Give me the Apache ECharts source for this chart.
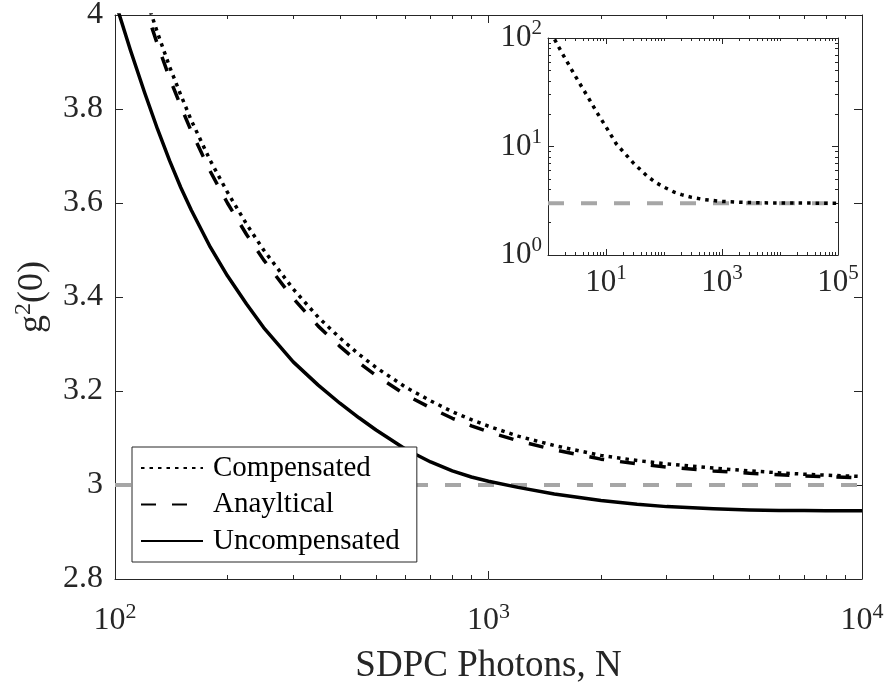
<!DOCTYPE html>
<html><head><meta charset="utf-8">
<script src="https://cdn.jsdelivr.net/npm/echarts@6/dist/echarts.min.js"></script>
<style>html,body{margin:0;padding:0;background:#fff}#c{width:886px;height:683px}</style>
</head><body><div id="c"></div>
<script>
// ---- data ----
const photons = [100,110,120,130,140,150,160,180,200,225,250,300,350,400,450,500,600,700,800,900,1000,1200,1500,2000,2500,3000,4000,5000,6000,7000,8000,10000];
const compensated = [4.25,4.14,4.045,3.962,3.89,3.83,3.776,3.69,3.623,3.555,3.50,3.417,3.357,3.313,3.278,3.25,3.208,3.179,3.156,3.139,3.125,3.104,3.084,3.063,3.052,3.045,3.036,3.030,3.026,3.023,3.021,3.018];
const analytical = [4.225,4.115,4.02,3.937,3.866,3.806,3.753,3.667,3.600,3.533,3.479,3.397,3.338,3.295,3.260,3.233,3.192,3.164,3.142,3.126,3.113,3.094,3.075,3.055,3.045,3.038,3.030,3.025,3.022,3.019,3.018,3.015];
const uncompensated = [4.03,3.925,3.835,3.757,3.69,3.633,3.585,3.506,3.445,3.385,3.335,3.262,3.2125,3.174,3.143,3.117,3.076,3.049,3.030,3.017,3.008,2.995,2.981,2.967,2.959,2.954,2.9495,2.947,2.946,2.9455,2.9453,2.945];
const insetPhotons = [1.3,1.5,2,3,4,5,7,10,15,20,30,50,70,100,150,200,300,500,1000,2000,5000,10000,100000];
const insetCompensated = [97,84,64,44,34,28,20.5,15.2,10.6,8.9,7.0,5.4,4.7,4.22,3.8,3.6,3.4,3.24,3.12,3.06,3.025,3.015,3.0];
const referenceLevel = 3;
const mainXRange = [100, 10000];
const insetXRange = [1, 100000];
const insetYRange = [1, 100];
const mainXMajor = [100, 1000, 10000];
const insetXMajor = [10, 1000, 100000];
const insetYMajor = [1, 10, 100];
const legendNames = ['Compensated', 'Anayltical', 'Uncompensated'];

// ---- helpers ----
const AX = '#262626';
const FONT = 'Liberation Serif';
function minorTicks(lo, hi, skip) {
  const out = [];
  for (let d = lo; d < hi; d *= 10) {
    for (let m = 2; m <= 10; m++) {
      const v = Math.round(m * d * 1000) / 1000;
      if (v <= hi && skip.indexOf(v) < 0) out.push(v);
    }
  }
  return out;
}
function supFmt(v) { return '10{sup|' + Math.round(Math.log10(v)) + '}'; }
function supRich(fs) { return { sup: { fontSize: fs, fontFamily: FONT, color: AX, verticalAlign: 'top', lineHeight: fs } }; }

const mainXMinor = minorTicks(100, 10000, mainXMajor);
const insetXMinor = minorTicks(1, 100000, insetXMajor);
const insetYMinor = minorTicks(1, 100, insetYMajor);

function logX(grid, range, pos, ticks, len, opts) {
  return Object.assign({
    type: 'log', logBase: 10, gridIndex: grid, min: range[0], max: range[1], position: pos,
    axisLine: { show: false, lineStyle: { color: AX, width: 1 } },
    axisTick: { show: true, inside: true, length: len, customValues: ticks, lineStyle: { color: AX, width: 1 } },
    axisLabel: { show: false },
    splitLine: { show: false }, minorTick: { show: false }
  }, opts || {});
}

const chart = echarts.init(document.getElementById('c'), null, { renderer: 'canvas' });
const zip = (xs, ys) => xs.map((x, i) => [x, ys[i]]);

const option = {
  backgroundColor: '#fff',
  animation: false,
  grid: [
    { left: 115, top: 15, width: 747, height: 564, outerBoundsMode: 'none', containLabel: false },
    { left: 548, top: 38, width: 290, height: 217, outerBoundsMode: 'none', containLabel: false }
  ],
  legend: {
    data: legendNames.map(n => ({ name: n, itemStyle: { opacity: 0 } })),
    orient: 'vertical', left: 132, top: 447,
    padding: [5, 17, 5, 8], itemGap: 4.5, itemWidth: 62, itemHeight: 14,
    borderColor: AX, borderWidth: 1, backgroundColor: '#fff', z: 20,
    itemStyle: { opacity: 0 },
    textStyle: { fontSize: 29, fontFamily: FONT, color: '#000', lineHeight: 32, padding: [0, 0, 0, 5] }
  },
  xAxis: [
    logX(0, mainXRange, 'bottom', mainXMajor, 8, {
      axisLine: { show: true, lineStyle: { color: AX, width: 1 } },
      axisLabel: { show: true, customValues: mainXMajor, formatter: supFmt, fontSize: 32, lineHeight: 40, fontFamily: FONT, color: AX, margin: 22, rich: supRich(22) },
      name: 'SDPC Photons, N', nameLocation: 'middle', nameGap: 55,
      nameTextStyle: { fontSize: 37, fontFamily: FONT, color: AX, lineHeight: 40 }
    }),
    logX(0, mainXRange, 'bottom', mainXMinor, 4),
    logX(0, mainXRange, 'top', mainXMajor, 8, { axisLine: { show: true, lineStyle: { color: AX, width: 1 } } }),
    logX(0, mainXRange, 'top', mainXMinor, 4),
    logX(1, insetXRange, 'bottom', insetXMajor, 6, {
      axisLine: { show: true, lineStyle: { color: AX, width: 1 } },
      axisLabel: { show: true, customValues: insetXMajor, formatter: supFmt, fontSize: 31, lineHeight: 40, fontFamily: FONT, color: AX, margin: 8, rich: supRich(21) }
    }),
    logX(1, insetXRange, 'bottom', insetXMinor, 3),
    logX(1, insetXRange, 'top', insetXMajor, 6, { axisLine: { show: true, lineStyle: { color: AX, width: 1 } } }),
    logX(1, insetXRange, 'top', insetXMinor, 3)
  ],
  yAxis: [
    { type: 'value', gridIndex: 0, min: 2.8, max: 4, interval: 0.2, position: 'left',
      axisLine: { show: true, lineStyle: { color: AX, width: 1 } },
      axisTick: { show: true, inside: true, length: 8, lineStyle: { color: AX } },
      axisLabel: { fontSize: 32, fontFamily: FONT, color: AX, margin: 12 },
      splitLine: { show: false },
      name: 'g{sup|2}(0)', nameLocation: 'middle', nameGap: 60, nameRotate: 90,
      nameTextStyle: { fontSize: 36, fontFamily: FONT, color: AX, lineHeight: 40, rich: supRich(24) } },
    { type: 'value', gridIndex: 0, min: 2.8, max: 4, interval: 0.2, position: 'right',
      axisLine: { show: true, lineStyle: { color: AX, width: 1 } },
      axisTick: { show: true, inside: true, length: 8, lineStyle: { color: AX } },
      axisLabel: { show: false }, splitLine: { show: false } },
    { type: 'log', logBase: 10, gridIndex: 1, min: insetYRange[0], max: insetYRange[1], position: 'left',
      axisLine: { show: true, lineStyle: { color: AX, width: 1 } },
      axisTick: { show: true, inside: true, length: 6, customValues: insetYMajor, lineStyle: { color: AX } },
      axisLabel: { customValues: insetYMajor, formatter: supFmt, fontSize: 31, lineHeight: 40, fontFamily: FONT, color: AX, margin: 6, rich: supRich(21) },
      splitLine: { show: false } },
    { type: 'log', logBase: 10, gridIndex: 1, min: insetYRange[0], max: insetYRange[1], position: 'left',
      axisLine: { show: false }, axisTick: { show: true, inside: true, length: 3, customValues: insetYMinor, lineStyle: { color: AX } },
      axisLabel: { show: false }, splitLine: { show: false } },
    { type: 'log', logBase: 10, gridIndex: 1, min: insetYRange[0], max: insetYRange[1], position: 'right',
      axisLine: { show: true, lineStyle: { color: AX, width: 1 } },
      axisTick: { show: true, inside: true, length: 6, customValues: insetYMajor, lineStyle: { color: AX } },
      axisLabel: { show: false }, splitLine: { show: false } },
    { type: 'log', logBase: 10, gridIndex: 1, min: insetYRange[0], max: insetYRange[1], position: 'right',
      axisLine: { show: false }, axisTick: { show: true, inside: true, length: 3, customValues: insetYMinor, lineStyle: { color: AX } },
      axisLabel: { show: false }, splitLine: { show: false } }
  ],
  series: [
    { name: 'ref-main', type: 'line', xAxisIndex: 0, yAxisIndex: 0, symbol: 'none', silent: true, z: 1,
      data: [[mainXRange[0], referenceLevel], [mainXRange[1], referenceLevel]],
      lineStyle: { color: '#a6a6a6', width: 4, type: [16, 17], cap: 'butt' } },
    { name: 'Compensated', type: 'line', xAxisIndex: 0, yAxisIndex: 0, symbol: 'none', z: 3,
      data: zip(photons, compensated), itemStyle: { color: '#000' },
      lineStyle: { color: '#000', width: 3.5, type: [3.5, 5], cap: 'butt' } },
    { name: 'Anayltical', type: 'line', xAxisIndex: 0, yAxisIndex: 0, symbol: 'none', z: 3,
      data: zip(photons, analytical), itemStyle: { color: '#000' },
      lineStyle: { color: '#000', width: 3.5, type: [15, 16], cap: 'butt' } },
    { name: 'Uncompensated', type: 'line', xAxisIndex: 0, yAxisIndex: 0, symbol: 'none', z: 3,
      data: zip(photons, uncompensated), itemStyle: { color: '#000' },
      lineStyle: { color: '#000', width: 3.5, type: 'solid', join: 'round' } },
    { name: 'ref-inset', type: 'line', xAxisIndex: 4, yAxisIndex: 2, symbol: 'none', silent: true, z: 1,
      data: [[insetXRange[0], referenceLevel], [insetXRange[1], referenceLevel]],
      lineStyle: { color: '#a6a6a6', width: 4, type: [16, 17], cap: 'butt' } },
    { name: 'inset-comp', type: 'line', xAxisIndex: 4, yAxisIndex: 2, symbol: 'none', z: 3,
      data: zip(insetPhotons, insetCompensated),
      lineStyle: { color: '#000', width: 3.5, type: [3.5, 5], cap: 'butt' } }
  ]
};
chart.setOption(option);
</script>
</body></html>
